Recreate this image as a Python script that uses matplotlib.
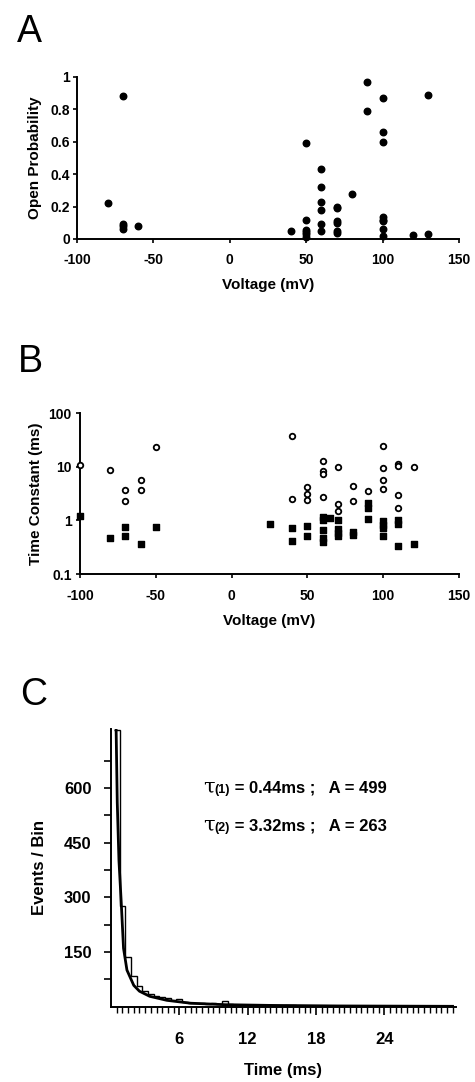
import numpy as np
import matplotlib
matplotlib.use("Agg")
import matplotlib.pyplot as plt
from matplotlib.offsetbox import TextArea, HPacker, AnnotationBbox

plt.rcParams['font.family'] = ['Liberation Sans', 'DejaVu Sans']
plt.rcParams['font.weight'] = 'bold'
plt.rcParams['axes.unicode_minus'] = False

# panel A: open probability vs voltage
voltA = [-80, -70, -70, -70, -70, -60, 40, 50, 50, 50, 50, 50, 50,
         60, 60, 60, 60, 60, 60, 70, 70, 70, 70, 70, 70, 80, 90, 90,
         100, 100, 100, 100, 100, 100, 100, 100, 120, 130, 130]
popen = [0.22, 0.88, 0.094, 0.078, 0.06, 0.082, 0.05, 0.59, 0.12, 0.057, 0.043, 0.03, 0.015,
         0.43, 0.32, 0.23, 0.18, 0.09, 0.047, 0.20, 0.19, 0.11, 0.10, 0.05, 0.04, 0.28, 0.97, 0.79,
         0.87, 0.66, 0.60, 0.135, 0.12, 0.11, 0.06, 0.02, 0.022, 0.89, 0.03]

# panel B: time constants (open circles = slow, squares = fast)
volt_slow = [-100, -80, -70, -70, -60, -60, -50, 40, 40, 50, 50, 50, 60, 60, 60, 60,
             70, 70, 70, 80, 80, 90, 100, 100, 100, 100, 110, 110, 110, 110, 120]
tau_slow = [10.9, 8.8, 3.7, 2.3, 5.6, 3.7, 22.9, 38, 2.5, 4.2, 3.1, 2.4, 13, 8.3, 7.3, 2.7,
            9.7, 2.0, 1.5, 4.4, 2.3, 3.5, 24, 9.6, 5.7, 3.8, 11.2, 10.1, 3.0, 1.7, 9.7]
volt_fast = [-100, -80, -70, -70, -60, -50, 25, 40, 40, 50, 50, 60, 60, 60, 60, 60, 65,
             70, 70, 70, 70, 80, 80, 90, 90, 90, 100, 100, 100, 100, 110, 110, 110, 120]
tau_fast = [1.22, 0.46, 0.76, 0.50, 0.37, 0.75, 0.87, 0.73, 0.41, 0.78, 0.52, 1.15, 1.0, 0.65, 0.46, 0.39, 1.1,
            1.03, 0.69, 0.58, 0.50, 0.61, 0.54, 2.1, 1.67, 1.07, 0.96, 0.83, 0.72, 0.50, 1.0, 0.87, 0.33, 0.37]

# panel C: dwell time histogram + fitted curve
bin_start = 0.25
bin_width = 0.5
counts = [760, 275, 135, 85, 55, 42, 35, 30, 26, 22, 17, 20, 12, 10, 10, 9, 8, 10, 7, 14,
          6, 5, 5, 4, 5, 5, 3, 3, 2, 2, 3, 3, 2, 2, 1, 1, 1, 1, 1, 1,
          1, 2, 1, 1, 1, 1, 1, 1, 0, 1, 0, 1, 0, 1, 1, 0, 0, 0, 0, 0]
fit_t = [0.45, 0.55, 0.7, 0.9, 1.1, 1.4, 2.0, 2.5, 3.4, 4.9, 7, 10, 14, 20, 30]
fit_y = [760, 560, 400, 285, 160, 100, 58, 42, 28, 17, 9, 5, 3, 1.5, 0.5]
fit_lines = [("(1)", "0.44", "499"), ("(2)", "3.32", "263")]

W, H = 475, 1082
fig = plt.figure(figsize=(W / 100, H / 100), dpi=100)


def box(l, t, r, b):
    return [l / W, 1 - b / H, (r - l) / W, (b - t) / H]


def style(ax):
    for s in ['top', 'right']:
        ax.spines[s].set_visible(False)
    for s in ['left', 'bottom']:
        ax.spines[s].set_linewidth(1.4)


# ---- A ----
axA = fig.add_axes(box(77, 77, 459, 239))
style(axA)
axA.scatter(voltA, popen, s=22, color='black', zorder=3, clip_on=False)
axA.set_xlim(-100, 150)
axA.set_ylim(0, 1)
axA.set_xticks([-100, -50, 0, 50, 100, 150])
axA.set_yticks([0, 0.2, 0.4, 0.6, 0.8, 1])
axA.set_yticklabels(['0', '0.2', '0.4', '0.6', '0.8', '1'])
axA.tick_params(axis='both', labelsize=10, length=3, width=1.2)
axA.tick_params(axis='x', pad=7)
axA.tick_params(axis='y', pad=2)
axA.set_xlabel('Voltage (mV)', fontsize=11, fontweight='bold', labelpad=8)
axA.set_ylabel('Open Probability', fontsize=11, fontweight='bold', labelpad=6)
fig.text(17 / W, 1 - 42 / H, 'A', fontsize=27, fontweight='normal')

# ---- B ----
axB = fig.add_axes(box(80, 413, 459, 574))
style(axB)
axB.set_yscale('log')
axB.scatter(volt_slow, tau_slow, s=16, facecolor='white', edgecolor='black',
            linewidth=1.3, zorder=3, clip_on=False)
axB.scatter(volt_fast, tau_fast, s=22, marker='s', color='black', zorder=3, clip_on=False)
axB.set_xlim(-100, 150)
axB.set_ylim(0.1, 100)
axB.set_xticks([-100, -50, 0, 50, 100, 150])
axB.set_yticks([0.1, 1, 10, 100])
axB.set_yticklabels(['0.1', '1', '10', '100'])
axB.yaxis.set_minor_locator(matplotlib.ticker.NullLocator())
axB.tick_params(axis='both', labelsize=10, length=3, width=1.2)
axB.tick_params(axis='x', pad=8)
axB.tick_params(axis='y', pad=3)
axB.set_xlabel('Voltage (mV)', fontsize=11, fontweight='bold', labelpad=8)
axB.set_ylabel('Time Constant (ms)', fontsize=11, fontweight='bold', labelpad=4)
fig.text(18 / W, 1 - 372 / H, 'B', fontsize=27, fontweight='normal')

# ---- C ----
axC = fig.add_axes(box(111, 729, 456, 1006.5))
style(axC)
edges = bin_start + bin_width * np.arange(len(counts) + 1)
axC.stairs(counts, edges, color='black', linewidth=1.0, baseline=None)
axC.plot(fit_t, fit_y, color='black', linewidth=2.0)
axC.set_xlim(0, 30.3)
axC.set_ylim(0, 762)
axC.set_xticks([6, 12, 18, 24])
axC.set_xticks(np.arange(0.5, 30.3, 0.5), minor=True)
axC.set_yticks([75, 150, 225, 300, 375, 450, 525, 600, 675])
axC.set_yticklabels(['', '150', '', '300', '', '450', '', '600', ''])
axC.tick_params(axis='x', which='major', labelsize=12, length=6, width=1.2, pad=12)
axC.tick_params(axis='x', which='minor', length=4, width=1.0)
axC.tick_params(axis='y', labelsize=12, length=5, width=1.2, pad=9)
axC.set_xlabel('Time (ms)', fontsize=12, fontweight='bold', labelpad=12)
axC.set_ylabel('Events / Bin', fontsize=12, fontweight='bold', labelpad=12)
fig.text(20 / W, 1 - 705 / H, 'C', fontsize=27, fontweight='normal')

for i, (sub, tau, amp) in enumerate(fit_lines):
    parts = [TextArea('τ', textprops=dict(fontsize=15, fontweight='normal', family='DejaVu Serif')),
             TextArea(sub, textprops=dict(fontsize=9, fontweight='bold')),
             TextArea(' = %sms ;   A = %s' % (tau, amp), textprops=dict(fontsize=12, fontweight='bold'))]
    pk = HPacker(children=parts, align='baseline', pad=0, sep=0)
    ab = AnnotationBbox(pk, (203 / W, 1 - (787 + 38 * i) / H), xycoords='figure fraction',
                        box_alignment=(0, 0.5), frameon=False)
    fig.add_artist(ab)

fig.savefig('out.png', dpi=100)
